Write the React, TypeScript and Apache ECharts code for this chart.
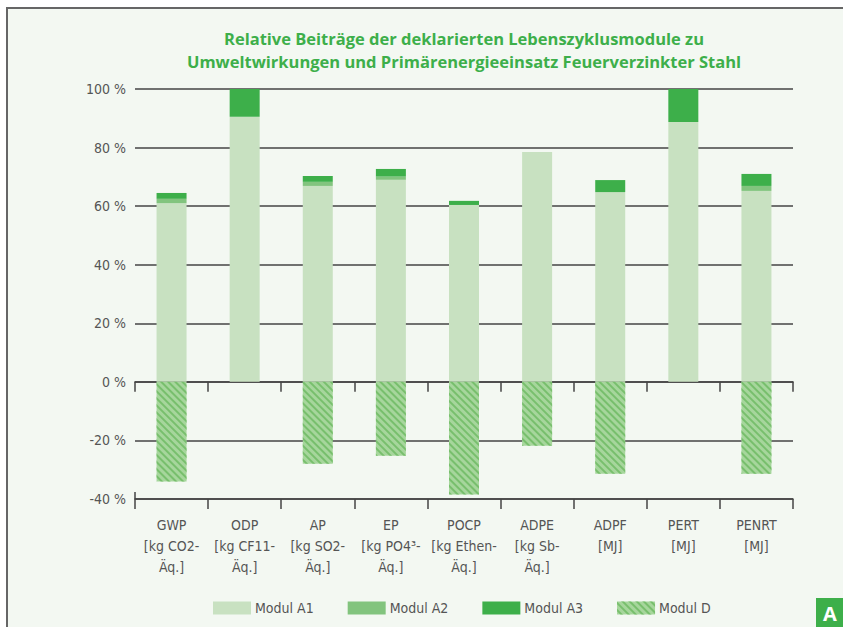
import React, { useEffect, useRef } from "react";
import * as echarts from "echarts";

const categories = [
  "GWP\n[kg CO2-\nÄq.]",
  "ODP\n[kg CF11-\nÄq.]",
  "AP\n[kg SO2-\nÄq.]",
  "EP\n[kg PO4³-\nÄq.]",
  "POCP\n[kg Ethen-\nÄq.]",
  "ADPE\n[kg Sb-\nÄq.]",
  "ADPF\n[MJ]",
  "PERT\n[MJ]",
  "PENRT\n[MJ]",
];
const modulA1 = [61.0, 90.5, 66.9, 69.0, 60.4, 78.5, 64.8, 88.7, 65.2];
const modulA2 = [1.5, 0, 1.4, 1.1, 0, 0, 0, 0, 1.7];
const modulA3 = [2.0, 9.5, 2.0, 2.6, 1.4, 0, 4.1, 11.3, 4.1];
const modulD = [-34.0, 0, -28.0, -25.2, -38.5, -21.8, -31.4, 0, -31.4];
const seriesNames = ["Modul A1", "Modul A2", "Modul A3", "Modul D"];
const titleLines = [
  "Relative Beiträge der deklarierten Lebenszyklusmodule zu",
  "Umweltwirkungen und Primärenergieeinsatz Feuerverzinkter Stahl",
];

const LABEL_FONT = "'Liberation Sans Narrow', 'DejaVu Sans Condensed', 'Open Sans', sans-serif";

export default function App() {
  const ref = useRef<HTMLDivElement>(null);
  useEffect(() => {
    if (!ref.current) return;
    const chart = echarts.init(ref.current, null, { renderer: "svg" });
    const decal = {
      symbol: "rect",
      symbolSize: 1,
      dashArrayX: [1, 0],
      dashArrayY: [1.2, 2.3],
      rotation: Math.PI / 4,
      color: "#78bf6d",
    };
    chart.setOption({
      animation: false,
      backgroundColor: "transparent",
      grid: { left: 135, right: 50, top: 89, bottom: 128, containLabel: false },
      graphic: [
        {
          type: "text",
          x: 464,
          y: 27,
          style: {
            text: titleLines.join("\n"),
            textAlign: "center",
            fill: "#3daf4a",
            font: "bold 16.5px 'Open Sans', sans-serif",
            lineHeight: 23,
          },
        },
        {
          type: "rect",
          shape: { x: 816, y: 598, width: 27, height: 29 },
          style: { fill: "#3daf4a" },
        },
        {
          type: "text",
          x: 830,
          y: 613,
          style: {
            text: "A",
            textAlign: "center",
            textVerticalAlign: "middle",
            fill: "#ffffff",
            font: "bold 20px 'Open Sans', sans-serif",
          },
        },
        {
          type: "line",
          shape: { x1: 135, y1: 492, x2: 135, y2: 499 },
          style: { stroke: "#444", lineWidth: 1.5 },
        },
      ],
      legend: {
        data: seriesNames,
        top: 596,
        left: 208,
        itemWidth: 38,
        itemHeight: 13,
        itemGap: 34,
        icon: "rect",
        textStyle: { fontSize: 14, color: "#555", fontFamily: LABEL_FONT, padding: [0, 0, 0, -1] },
      },
      xAxis: [
        {
          type: "category",
          data: categories,
          position: "bottom",
          axisLine: { onZero: false, lineStyle: { color: "#444", width: 1.5 } },
          axisTick: { show: true, length: 10, lineStyle: { color: "#444", width: 1.5 } },
          axisLabel: {
            interval: 0,
            fontSize: 14,
            lineHeight: 21,
            color: "#555",
            fontFamily: LABEL_FONT,
            margin: 15,
          },
        },
        {
          type: "category",
          data: categories,
          position: "top",
          axisLine: { onZero: true, lineStyle: { color: "#444", width: 1.5 } },
          axisTick: { show: true, inside: true, length: 10, lineStyle: { color: "#444", width: 1.5 } },
          axisLabel: { show: false },
        },
      ],
      yAxis: {
        type: "value",
        min: -40,
        max: 100,
        interval: 20,
        axisLine: { show: false },
        axisTick: { show: false },
        splitLine: { lineStyle: { color: "#444", width: 1.5 } },
        axisLabel: {
          formatter: "{value} %",
          fontSize: 14,
          color: "#555",
          fontFamily: LABEL_FONT,
          margin: 9,
        },
      },
      series: [
        {
          name: "Modul A1",
          type: "bar",
          stack: "total",
          barWidth: 30,
          data: modulA1,
          itemStyle: { color: "#c8e1c1" },
        },
        {
          name: "Modul A2",
          type: "bar",
          stack: "total",
          barWidth: 30,
          data: modulA2,
          itemStyle: { color: "#82c47e" },
        },
        {
          name: "Modul A3",
          type: "bar",
          stack: "total",
          barWidth: 30,
          data: modulA3,
          itemStyle: { color: "#3daf4a" },
        },
        {
          name: "Modul D",
          type: "bar",
          stack: "total",
          barWidth: 30,
          data: modulD,
          itemStyle: { color: "#a6d69c", decal },
        },
      ],
    });
    return () => chart.dispose();
  }, []);
  return (
    <div style={{ position: "absolute", left: 0, top: 0, width: 843, height: 627, background: "#ffffff" }}>
      <div
        style={{
          position: "absolute",
          left: 6,
          top: 7,
          width: 837,
          height: 620,
          background: "#f3f8f2",
          borderTop: "2px solid #666",
          borderLeft: "2px solid #666",
          boxSizing: "border-box",
        }}
      />
      <div ref={ref} style={{ position: "absolute", left: 0, top: 0, width: 843, height: 627 }} />
    </div>
  );
}
